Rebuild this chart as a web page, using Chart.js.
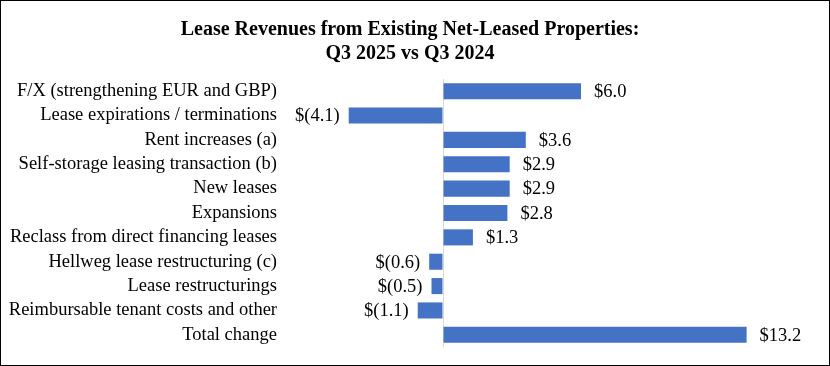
<!DOCTYPE html>
<html>
<head>
<meta charset="utf-8">
<script src="https://cdn.jsdelivr.net/npm/chart.js@4"></script>
<style>
  html, body { margin: 0; padding: 0; background: #fff; }
  #caja { width: 830px; height: 366px; box-sizing: border-box; border: 1px solid #000; }
  #grafica { display: block; }
</style>
</head>
<body>
<div id="caja"><canvas id="grafica" width="828" height="364"></canvas></div>
<script>
// Datos del gráfico
const categorias = [
    'F/X (strengthening EUR and GBP)',
    'Lease expirations / terminations',
    'Rent increases (a)',
    'Self-storage leasing transaction (b)',
    'New leases',
    'Expansions',
    'Reclass from direct financing leases',
    'Hellweg lease restructuring (c)',
    'Lease restructurings',
    'Reimbursable tenant costs and other',
    'Total change'
];
const valores = [6.0, -4.1, 3.6, 2.9, 2.9, 2.8, 1.3, -0.6, -0.5, -1.1, 13.2];
const titulo = ['Lease Revenues from Existing Net-Leased Properties:', 'Q3 2025 vs Q3 2024'];

const fuente = '"Liberation Serif", "Times New Roman", serif';

// Etiquetas de valor al final de cada barra
const etiquetas = {
    id: 'etiquetas',
    afterDatasetsDraw(chart) {
        const ctx = chart.ctx;
        const meta = chart.getDatasetMeta(0);
        ctx.save();
        ctx.font = '18.5px ' + fuente;
        ctx.fillStyle = '#000';
        ctx.textBaseline = 'middle';
        meta.data.forEach((barra, i) => {
            const v = valores[i];
            if (v >= 0) {
                ctx.textAlign = 'left';
                ctx.fillText('$' + v.toFixed(1), barra.x + 13, barra.y + 1);
            } else {
                ctx.textAlign = 'right';
                ctx.fillText('$(' + Math.abs(v).toFixed(1) + ')', barra.x - 9, barra.y + 1);
            }
        });
        ctx.restore();
    }
};

const ctx = document.getElementById('grafica').getContext('2d');
new Chart(ctx, {
    type: 'bar',
    data: {
        labels: categorias,
        datasets: [{
            data: valores,
            backgroundColor: '#4472C4',
            borderWidth: 0,
            categoryPercentage: 0.66,
            barPercentage: 1
        }]
    },
    options: {
        indexAxis: 'y',
        responsive: false,
        animation: false,
        layout: { padding: { left: 8, right: 18, top: 0, bottom: 18 } },
        plugins: {
            legend: { display: false },
            tooltip: { enabled: false },
            title: {
                display: true,
                text: titulo,
                color: '#000',
                font: { family: fuente, size: 20, weight: 'bold', lineHeight: 1.2 },
                padding: { top: 17, bottom: 13 }
            }
        },
        scales: {
            x: {
                min: -7,
                max: 16,
                ticks: { display: false },
                border: { display: false },
                grid: {
                    drawTicks: false,
                    color: (c) => c.tick && c.tick.value === 0 ? '#d9d9d9' : 'transparent'
                }
            },
            y: {
                ticks: {
                    color: '#000',
                    padding: 5,
                    autoSkip: false,
                    font: { family: fuente, size: 18.5 }
                },
                grid: { display: false, drawTicks: false },
                border: { display: false },
                afterFit: (s) => { s.width = 273; }
            }
        }
    },
    plugins: [etiquetas]
});
</script>
</body>
</html>
